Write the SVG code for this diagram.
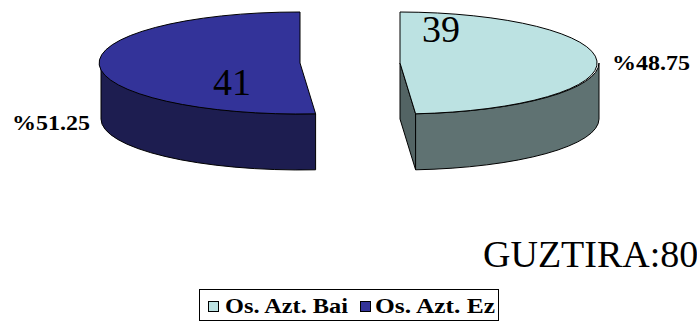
<svg xmlns="http://www.w3.org/2000/svg" width="697" height="322" viewBox="0 0 697 322">
<style>
.edge{stroke:#000;stroke-width:1;stroke-linejoin:round}
.serif{font-family:'Liberation Serif','Times New Roman','DejaVu Serif',serif;fill:#000}
.big{font-size:38px}
.pct{font-size:22px;font-weight:bold}
.leg{font-size:21px;font-weight:bold}
</style>
<rect width="697" height="322" fill="#fff"/>
<g id="slice-ez">
<path class="edge" fill="#1d1d50" d="M101,63 A199,51 0 0,0 315.6,113.8 L315.6,169.8 A199,51 0 0,1 101,119 Z"/>
<path class="edge" fill="#333399" d="M300,63 L300,12 A199,51 0 1,0 315.6,113.8 Z"/>
<text class="serif big" x="213" y="95">41</text>
</g>
<g id="slice-bai">
<path class="edge" fill="#536464" d="M400,63 L415.6,113.8 L415.6,169.8 L400,119 Z"/>
<path class="edge" fill="#5f7272" d="M599,63 A199,51 0 0,1 415.6,113.8 L415.6,169.8 A199,51 0 0,0 599,119 Z"/>
<path class="edge" fill="#bce2e2" d="M400,63 L400,12 A199,51 0 0,1 415.6,113.8 Z"/>
<text class="serif big" x="422" y="42">39</text>
</g>
<g id="label-ez"><text class="serif pct" x="12" y="130" textLength="78" lengthAdjust="spacingAndGlyphs">%51.25</text></g>
<g id="label-bai"><text class="serif pct" x="612" y="70" textLength="78" lengthAdjust="spacingAndGlyphs">%48.75</text></g>
<g id="total"><text class="serif big" x="483" y="267" font-size="36">GUZTIRA:80</text></g>
<g id="legend">
<rect x="199.5" y="289.5" width="299" height="31" fill="#fff" stroke="#000" stroke-width="1"/>
<rect x="208.5" y="301.5" width="10" height="10" fill="#bce2e2" stroke="#000" stroke-width="1"/>
<text class="serif leg" x="225" y="313" textLength="123" lengthAdjust="spacingAndGlyphs">Os. Azt. Bai</text>
<rect x="360.5" y="301.5" width="10" height="10" fill="#333399" stroke="#000" stroke-width="1"/>
<text class="serif leg" x="375" y="313" textLength="120" lengthAdjust="spacingAndGlyphs">Os. Azt. Ez</text>
</g>
<g id="connectors"></g>
</svg>
